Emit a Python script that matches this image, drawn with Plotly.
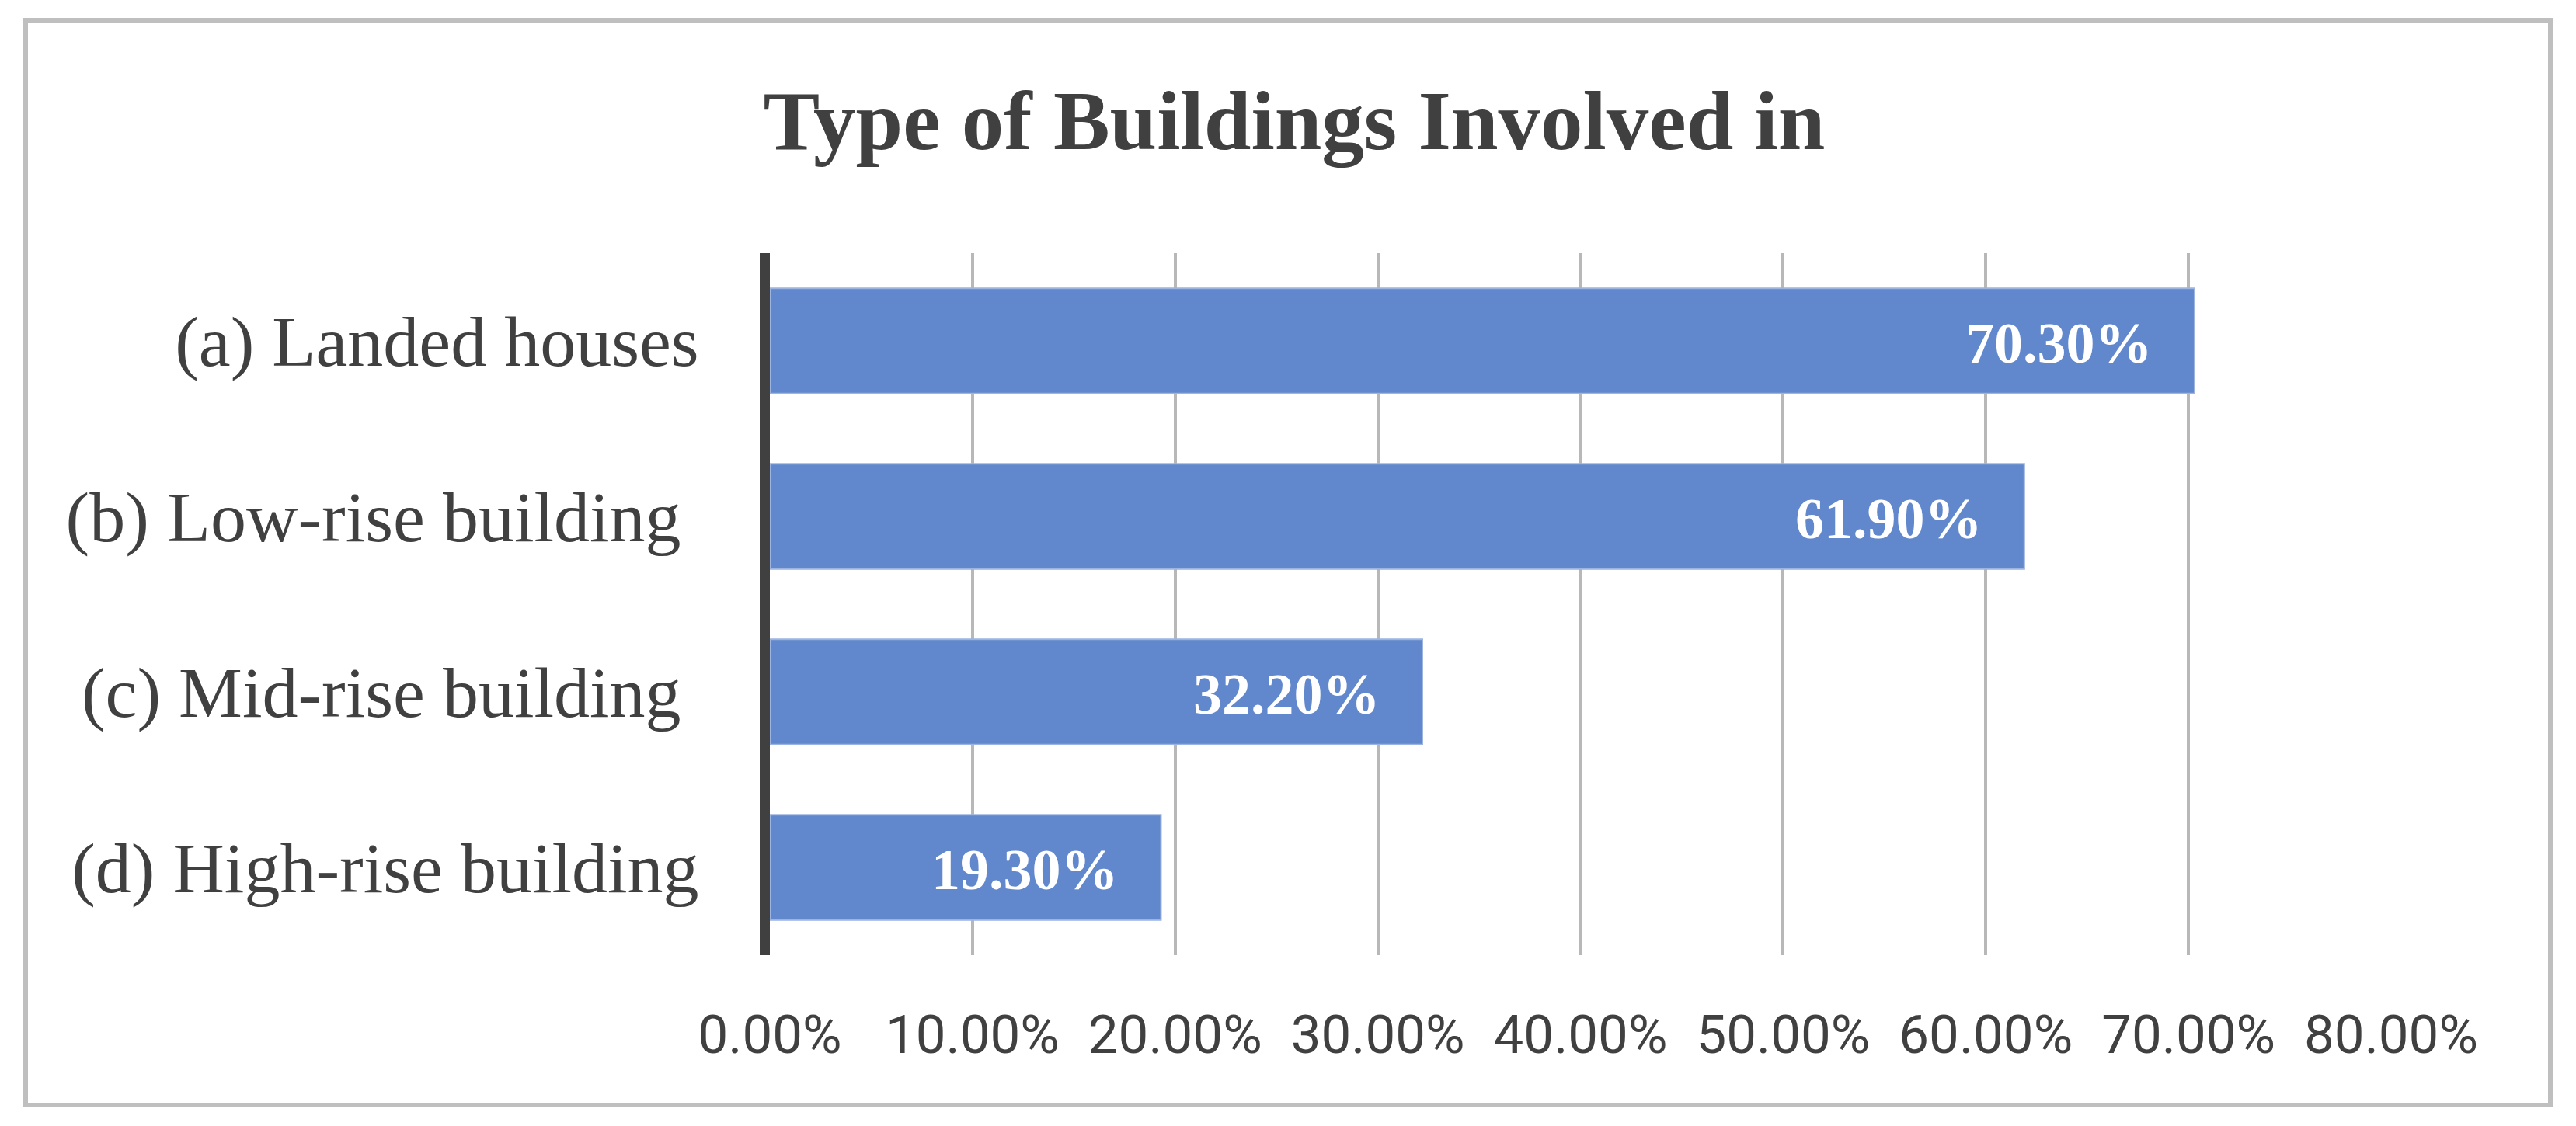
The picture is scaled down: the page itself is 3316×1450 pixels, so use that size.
import plotly.graph_objects as go

categories = ["(a) Landed houses", "(b) Low-rise building", "(c) Mid-rise building", "(d) High-rise building"]
tick_texts = ["(a) Landed houses", "(b) Low-rise building\u00a0", "(c) Mid-rise building\u00a0", "(d) High-rise building"]
values = [70.3, 61.9, 32.2, 19.3]
x_ticks = [0, 10, 20, 30, 40, 50, 60, 70, 80]
title_text = "Type of Buildings Involved in"

W, H = 3316, 1450
OFF = 8  # page body margin offset
L, R, T, B = 991 - OFF, 238 + OFF, 326 - OFF, 220 + OFF
pw, ph = W - L - R, H - T - B

fig = go.Figure()
fig.add_trace(go.Bar(
    x=values, y=categories, orientation="h",
    marker=dict(color="#6187CD", line=dict(color="#9DB3E0", width=2)),
    hoverinfo="skip", showlegend=False,
))

annotations = []
for c, v in zip(categories, values):
    annotations.append(dict(
        x=v, y=c, xref="x", yref="y", text="%.2f%%" % v, showarrow=False,
        xanchor="right", yanchor="middle", xshift=-52, yshift=-3,
        font=dict(family="Liberation Serif", size=74, color="white", weight="bold"),
    ))

def px_x(p):
    return (p - OFF - L) / pw

def px_y(p):
    return (H - B - (p - OFF)) / ph

fig.update_layout(
    width=W, height=H,
    margin=dict(l=L, r=R, t=T, b=B),
    paper_bgcolor="white", plot_bgcolor="white",
    bargap=0.40,
    title=dict(text=title_text, x=0.5, xanchor="center", y=1 - (154 - OFF) / H, yanchor="middle",
               font=dict(family="Liberation Serif", size=109, color="#404040", weight="bold")),
    xaxis=dict(range=[0, 80], tickvals=x_ticks, ticktext=["%.2f%%" % t for t in x_ticks],
               showgrid=True, gridcolor="#B8B8B8", gridwidth=4, zeroline=False,
               showline=False, ticks="", ticklabelstandoff=56,
               tickfont=dict(family="Roboto", size=69, color="#404040")),
    yaxis=dict(categoryorder="array", categoryarray=categories, autorange="reversed",
               tickvals=categories, ticktext=tick_texts,
               showgrid=False, zeroline=False, showline=True, linewidth=13, linecolor="#404040",
               ticks="", ticklabelstandoff=60,
               tickfont=dict(family="Liberation Serif", size=92, color="#404040")),
    annotations=annotations,
    shapes=[dict(type="rect", xref="paper", yref="paper",
                 x0=px_x(33), x1=px_x(3283), y0=px_y(1423), y1=px_y(26),
                 line=dict(color="#BFBFBF", width=6), fillcolor="rgba(0,0,0,0)", layer="below")],
)

fig.write_html("out.html")
